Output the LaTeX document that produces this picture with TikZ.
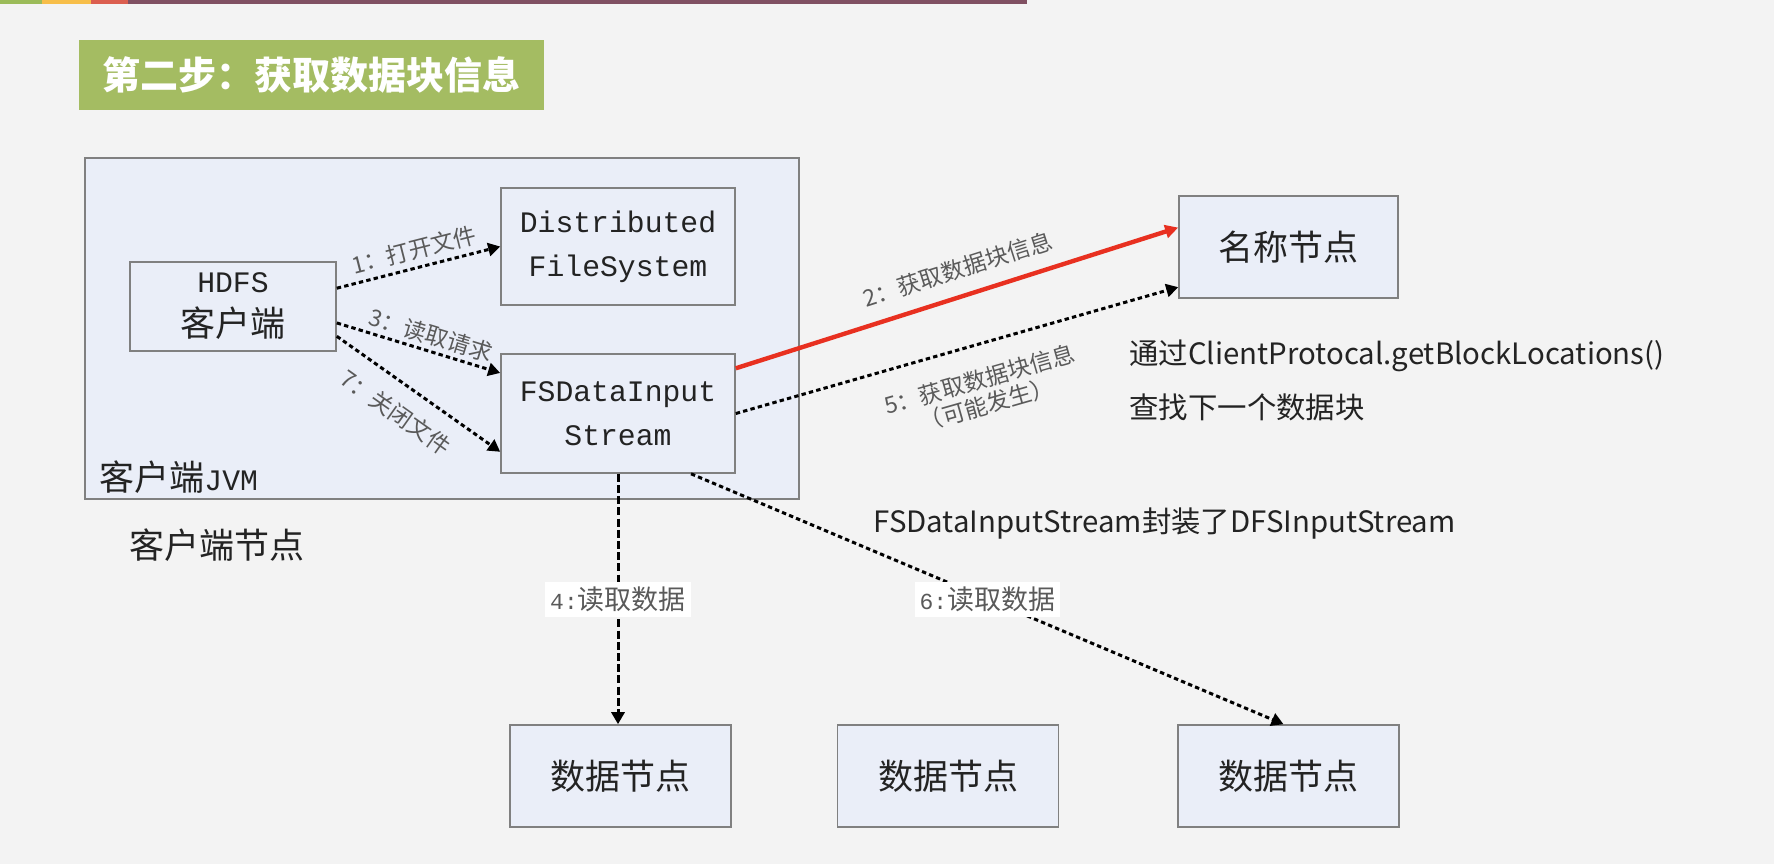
\documentclass[tikz,border=0pt]{standalone}
\usepackage{fontspec}
\setmainfont{Noto Sans CJK SC}
\newfontfamily\boxmono{Liberation Mono}[Scale=0.85]
\usepackage{tikz}
\usetikzlibrary{arrows.meta,positioning,calc}
\definecolor{pagebg}{RGB}{243,243,243}
\definecolor{boxfill}{RGB}{234,238,248}
\definecolor{boxline}{RGB}{128,128,128}
\definecolor{titlegreen}{RGB}{164,188,98}
\definecolor{callred}{RGB}{232,48,32}
\definecolor{labelgray}{RGB}{90,90,90}
\definecolor{textdark}{RGB}{35,35,35}
\definecolor{bargreen}{RGB}{155,187,89}
\definecolor{baryellow}{RGB}{247,190,73}
\definecolor{barred}{RGB}{219,94,79}
\definecolor{barplum}{RGB}{128,80,98}

\begin{document}
\begin{tikzpicture}[x=0.5pt, y=-0.5pt,
box/.style={draw=boxline, line width=0.8pt, fill=boxfill, align=center, text=textdark,
font=\fontsize{17.5}{22}\selectfont, inner sep=0pt},
titlebox/.style={fill=titlegreen, text=white, font=\fontsize{19}{22}\selectfont\bfseries,
minimum width=232.5pt, minimum height=35pt},
note/.style={anchor=west, text=textdark, font=\fontsize{14.7}{17}\selectfont, inner sep=0pt},
lbl/.style={font=\fontsize{11.5}{13}\selectfont, text=labelgray, inner sep=1pt, align=center},
readlbl/.style={fill=white, font=\fontsize{13.5}{15}\selectfont, text=labelgray,
inner xsep=2.5pt, inner ysep=0pt, minimum height=17.5pt},
link/.style={-{Triangle[length=6pt, width=6.5pt]}, line width=1.5pt, draw=black,
dash pattern=on 2.2pt off 1.6pt},
redlink/.style={-{Triangle[length=6.5pt, width=6.5pt]}, line width=2.2pt, draw=callred}
]

\fill[pagebg] (0,0) rectangle (1774,864);
\useasboundingbox (0,0) rectangle (1774,864);

\foreach \a/\b/\c in {0/42/bargreen, 42/91/baryellow, 91/128/barred, 128/1027/barplum} {
\fill[\c] (\a,0) rectangle (\b,3.5);
}

\node[titlebox] (title) at (311.5,75) {第二步：获取数据块信息};

% client side
\node[box, minimum width=357pt, minimum height=170.5pt] (jvm) at (442,328.5) {};
\node[box, minimum width=103pt, minimum height=44.5pt] (hdfs) at (233,306.5) {{\boxmono HDFS}\\客户端};
\node[box, minimum width=117pt, minimum height=58.5pt] (dfs) at (618,246.5) {{\boxmono Distributed}\\{\boxmono FileSystem}};
\node[box, minimum width=117pt, minimum height=59.5pt] (fsd) at (618,413.5) {{\boxmono FSDataInput}\\{\boxmono Stream}};
\node[anchor=west, inner sep=0pt, text=textdark, font=\fontsize{17.5}{20}\selectfont] (jvmname) at (99,477.5) {客户端{\boxmono JVM}};
\node[inner sep=0pt, text=textdark, font=\fontsize{17.5}{20}\selectfont] (clientnode) at (216.5,545) {客户端节点};

% name node and data nodes
\node[box, minimum width=109.5pt, minimum height=51pt] (nn) at (1288.5,247) {名称节点};
\foreach \n/\x in {dn1/620.5, dn2/948, dn3/1288.5} {
\node[box, minimum width=110.5pt, minimum height=51pt] (\n) at (\x,776) {数据节点};
}

\node[note] (proto) at (1129,356) {通过ClientProtocal.getBlockLocations()};
\node[note] (nextblk) at (1129,407.5) {查找下一个数据块};
\node[note] (wrap) at (873,524) {FSDataInputStream封装了DFSInputStream};

% calls
\draw[link] (hdfs.10) -- node[lbl, sloped, above=2pt, pos=0.5] (l1) {1：打开文件} (dfs.west);
\draw[link] (hdfs.-9) -- node[lbl, sloped, above=1pt, pos=0.55] (l3) {3：读取请求} (fsd.161);
\draw[link] (hdfs.-16) -- node[lbl, sloped, below=7pt, pos=0.46] (l7) {7：关闭文件} (fsd.198);
\draw[redlink] (fsd.21) -- node[lbl, sloped, above=6pt, pos=0.52] (l2) {2：获取数据块信息} (nn.170);
\draw[link] (fsd.east) -- node[lbl, sloped, below=10pt, pos=0.53] (l5) {5：获取数据块信息\\（可能发生）} (nn.200);

\coordinate (rd2) at ($(fsd.south)!0.62!(fsd.south east)$);
\draw[link, dash pattern=on 4pt off 1.6pt] (fsd.south) -- node[readlbl] (l4) {{\boxmono 4:}读取数据} (fsd.south |- dn1.north);
\draw[link] (rd2) -- node[readlbl] (l6) {{\boxmono 6:}读取数据} ([xshift=-2.5pt]dn3.north);

\end{tikzpicture}
\end{document}
